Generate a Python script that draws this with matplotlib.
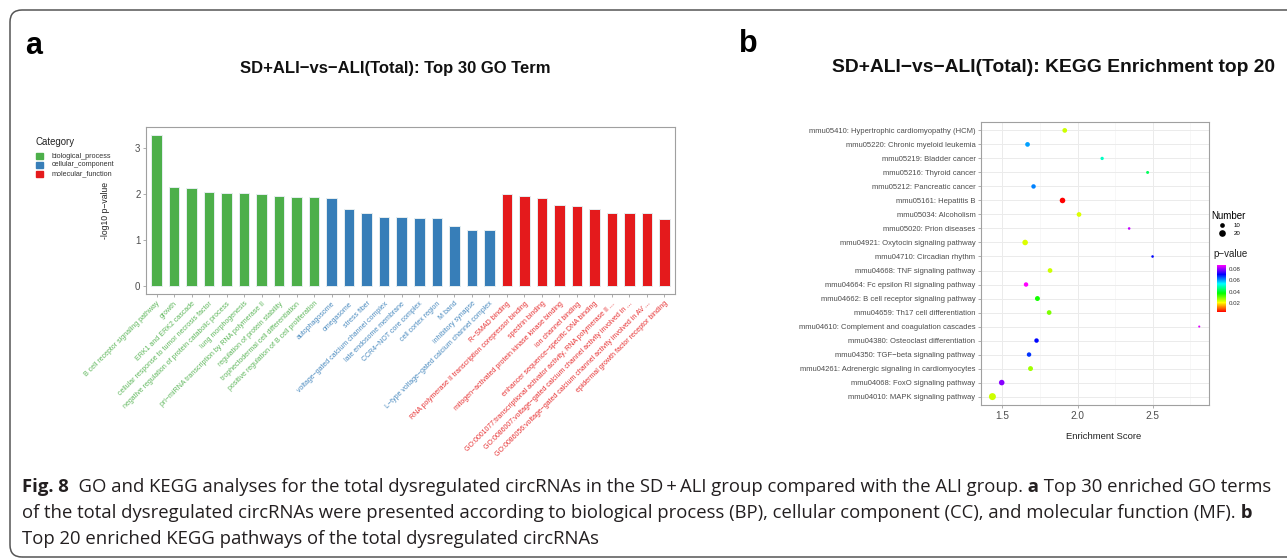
import numpy as np
import matplotlib
matplotlib.use("Agg")
import matplotlib.pyplot as plt
from matplotlib.colors import LinearSegmentedColormap, Normalize
from matplotlib.patches import FancyBboxPatch, Rectangle
from matplotlib.lines import Line2D

plt.rcParams['font.family'] = ['Liberation Sans', 'DejaVu Sans']

# ------------------------------------------------------------
# GO terms (top 30), -log10 p-value per category
# ------------------------------------------------------------
bp_terms = ["B cell receptor signaling pathway", "growth", "ERK1 and ERK2 cascade",
            "cellular response to tumor necrosis factor",
            "negative regulation of protein catabolic process", "lung morphogenesis",
            "pri\u2212miRNA transcription by RNA polymerase II", "regulation of protein stability",
            "trophectodermal cell differentiation", "positive regulation of B cell proliferation"]
bp_vals = [3.30, 2.16, 2.14, 2.05, 2.03, 2.02, 2.00, 1.96, 1.95, 1.95]

cc_terms = ["autophagosome", "omegasome", "stress fiber", "voltage\u2212gated calcium channel complex",
            "late endosome membrane", "CCR4\u2212NOT core complex", "cell cortex region", "M band",
            "inhibitory synapse", "L\u2212type voltage\u2212gated calcium channel complex"]
cc_vals = [1.92, 1.69, 1.60, 1.50, 1.50, 1.49, 1.49, 1.31, 1.23, 1.23]

mf_terms = ["R\u2212SMAD binding", "RNA polymerase II transcription corepressor binding",
            "spectrin binding", "mitogen\u2212activated protein kinase kinase binding",
            "ion channel binding", "enhancer sequence\u2212specific DNA binding",
            "GO:0001077:transcriptional activator activity, RNA polymerase II ...",
            "GO:0086007:voltage\u2212gated calcium channel activity involved in ...",
            "GO:0086056:voltage\u2212gated calcium channel activity involved in AV ...",
            "epidermal growth factor receptor binding"]
mf_vals = [2.01, 1.96, 1.92, 1.76, 1.75, 1.69, 1.60, 1.59, 1.59, 1.47]

categories = ["biological_process", "cellular_component", "molecular_function"]
cat_colors = ["#4DAF4A", "#377EB8", "#E41A1C"]

# ------------------------------------------------------------
# KEGG top 20 (listed bottom -> top)
# ------------------------------------------------------------
kegg_terms = ["mmu04010: MAPK signaling pathway", "mmu04068: FoxO signaling pathway",
              "mmu04261: Adrenergic signaling in cardiomyocytes", "mmu04350: TGF\u2212beta signaling pathway",
              "mmu04380: Osteoclast differentiation", "mmu04610: Complement and coagulation cascades",
              "mmu04659: Th17 cell differentiation", "mmu04662: B cell receptor signaling pathway",
              "mmu04664: Fc epsilon RI signaling pathway", "mmu04668: TNF signaling pathway",
              "mmu04710: Circadian rhythm", "mmu04921: Oxytocin signaling pathway",
              "mmu05020: Prion diseases", "mmu05034: Alcoholism", "mmu05161: Hepatitis B",
              "mmu05212: Pancreatic cancer", "mmu05216: Thyroid cancer", "mmu05219: Bladder cancer",
              "mmu05220: Chronic myeloid leukemia", "mmu05410: Hypertrophic cardiomyopathy (HCM)"]
kegg_score = [1.433, 1.495, 1.687, 1.677, 1.727, 2.811, 1.811, 1.733, 1.657, 1.817,
              2.500, 1.651, 2.344, 2.010, 1.900, 1.707, 2.467, 2.164, 1.667, 1.915]
kegg_p = [0.024, 0.079, 0.027, 0.067, 0.070, 0.085, 0.029, 0.036, 0.087, 0.024,
          0.070, 0.023, 0.083, 0.023, 0.004, 0.062, 0.043, 0.050, 0.060, 0.024]
kegg_n = [22, 14, 11, 9, 9, 2, 10, 11, 9, 10, 3, 14, 3, 10, 14, 9, 4, 5, 10, 10]

W, H = 1287, 559
fig = plt.figure(figsize=(W / 100, H / 100), dpi=100)
fig.patch.set_facecolor('white')


def fx(px):
    return px / W


def fy(py):
    return 1 - py / H


grey_txt = '#4D4D4D'
frame_col = '#A0A0A0'

# ============================================================
# (a) GO bar chart
# ============================================================
ax1 = fig.add_axes([fx(146), fy(294), fx(675) - fx(146), fy(127) - fy(294)])
go_terms = bp_terms + cc_terms + mf_terms
go_vals = bp_vals + cc_vals + mf_vals
go_cols = ([cat_colors[0]] * len(bp_terms) + [cat_colors[1]] * len(cc_terms)
           + [cat_colors[2]] * len(mf_terms))
xpos = np.arange(len(go_terms))
ax1.bar(xpos, go_vals, width=0.6, color=go_cols, edgecolor='#E6EEF0', linewidth=0.7)
ax1.set_xlim(-0.6, len(go_terms) - 0.4)
ax1.set_ylim(-0.165, 3.465)
ax1.set_yticks([0, 1, 2, 3])
ax1.tick_params(axis='y', labelsize=7, labelcolor=grey_txt, color=frame_col, length=2.5, width=0.6, pad=1.5)
ax1.set_xticks(xpos)
ax1.set_xticklabels(go_terms, rotation=45, ha='right', va='top', rotation_mode='anchor', fontsize=5.0)
for lbl, c in zip(ax1.get_xticklabels(), go_cols):
    lbl.set_color(c)
    lbl.set_alpha(0.9)
ax1.tick_params(axis='x', color=frame_col, length=2.5, width=0.6, pad=2)
for sp in ax1.spines.values():
    sp.set_color(frame_col)
    sp.set_linewidth(0.8)
ax1.set_ylabel("-log10 p\u2212value", fontsize=6.2, color='#222222', labelpad=18)

# category legend
fig.text(fx(36), fy(142), "Category", fontsize=6.9, color='#222222', va='center')
for i, (name, c) in enumerate(zip(categories, cat_colors)):
    yc = 156 + 9 * i
    fig.add_artist(Rectangle((fx(36), fy(yc + 3.3)), fx(7), 6.6 / H, color=c,
                             transform=fig.transFigure))
    fig.text(fx(52), fy(yc), name, fontsize=5.2, color='#333333', va='center')

fig.text(fx(395), fy(68), "SD+ALI\u2212vs\u2212ALI(Total): Top 30 GO Term", fontsize=12,
         fontweight='bold', ha='center', va='center', color='#111111')
fig.text(fx(34), fy(46), "a", fontsize=22, fontweight='bold', ha='center', va='center')

# ============================================================
# (b) KEGG bubble chart
# ============================================================
ax2 = fig.add_axes([fx(981), fy(405), fx(1209) - fx(981), fy(122) - fy(405)])
rainbow = LinearSegmentedColormap.from_list(
    "p_rainbow", ["#FF0000", "#FFFF00", "#00FF00", "#00FFFF", "#0000FF", "#FF00FF"])
norm = Normalize(vmin=min(kegg_p), vmax=max(kegg_p))
ypos = np.arange(len(kegg_terms))
ax2.set_axisbelow(True)
sc = ax2.scatter(kegg_score, ypos, s=np.array(kegg_n) * 1.15, c=kegg_p, cmap=rainbow, norm=norm,
                 linewidths=0, zorder=3)
ax2.set_xlim(1.357, 2.876)
ax2.set_ylim(-0.6, len(kegg_terms) - 0.4)
ax2.set_yticks(ypos)
ax2.set_yticklabels(kegg_terms, fontsize=5.5, color=grey_txt)
ax2.set_xticks([1.5, 2.0, 2.5])
ax2.set_xticks([1.75, 2.25, 2.75], minor=True)
ax2.tick_params(axis='x', labelsize=7.2, labelcolor=grey_txt, color=frame_col, length=2.5, width=0.6, pad=2)
ax2.tick_params(axis='x', which='minor', length=0)
ax2.tick_params(axis='y', color=frame_col, length=2.5, width=0.6, pad=1.5)
ax2.grid(True, which='major', color='#EBEBEB', linewidth=0.7)
ax2.grid(True, which='minor', axis='x', color='#F4F4F4', linewidth=0.5)
for sp in ax2.spines.values():
    sp.set_color(frame_col)
    sp.set_linewidth(0.8)
ax2.set_xlabel("Enrichment Score", fontsize=6.8, color='#222222', labelpad=8)
ax2.xaxis.label.set_x(0.54)

# size legend
num_handles = [Line2D([], [], marker='o', linestyle='', color='black', markeredgewidth=0,
                      markersize=np.sqrt(v * 1.15)) for v in (10, 20)]
fig.legend(num_handles, ["10", "20"], title="Number", loc='upper left',
           bbox_to_anchor=(fx(1208), fy(208)), frameon=False, fontsize=4.4, title_fontsize=7,
           alignment='left', handletextpad=0.2, labelspacing=0.35, borderpad=0,
           handlelength=3.5)

# colour bar
fig.text(fx(1213), fy(254), "p\u2212value", fontsize=7, color='#222222', va='center')
cax = fig.add_axes([fx(1217), fy(312), fx(9), 47 / H])
cb = fig.colorbar(sc, cax=cax, ticks=[0.02, 0.04, 0.06, 0.08], format='%.2f')
cb.outline.set_visible(False)
cax.tick_params(labelsize=4.4, length=0, pad=2, labelcolor='#333333')

fig.text(fx(1054), fy(68), "SD+ALI\u2212vs\u2212ALI(Total): KEGG Enrichment top 20", fontsize=13.9,
         fontweight='bold', ha='center', va='center', color='#111111')
fig.text(fx(748), fy(44), "b", fontsize=22, fontweight='bold', ha='center', va='center')

# ============================================================
# Caption and outer frame
# ============================================================
cap_lines = [
    [("Fig. 8", True),
     ("  GO and KEGG analyses for the total dysregulated circRNAs in the SD\u2009+\u2009ALI group compared with the ALI group.", False),
     (" a", True), (" Top 30 enriched GO terms", False)],
    [("of the total dysregulated circRNAs were presented according to biological process (BP), "
      "cellular component (CC), and molecular function (MF).", False), (" b", True)],
    [("Top 20 enriched KEGG pathways of the total dysregulated circRNAs", False)],
]
renderer = fig.canvas.get_renderer()
for row, parts in enumerate(cap_lines):
    x = 22
    y = 492 + 26 * row
    for txt, bold in parts:
        t = fig.text(fx(x), fy(y), txt, fontsize=13.3, fontweight='bold' if bold else 'normal',
                     family=['Open Sans', 'DejaVu Sans'], color='#231F20', va='baseline')
        x += t.get_window_extent(renderer=renderer).width

frame = FancyBboxPatch((10, H - 557), 1300, 547, boxstyle="round,pad=0,rounding_size=12",
                       transform=None, facecolor='none', edgecolor='#555555', linewidth=1.1)
fig.add_artist(frame)

fig.savefig("out.png", dpi=100, facecolor='white')
